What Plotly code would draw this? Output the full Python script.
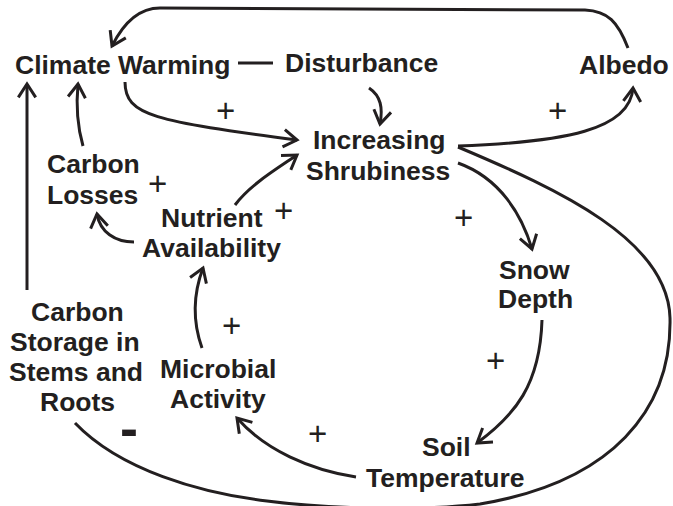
import math
import plotly.graph_objects as go

# ---------------- data ----------------
node_names = ["Climate Warming", "Disturbance", "Albedo", "Increasing Shrubiness",
              "Carbon Losses", "Nutrient Availability", "Snow Depth",
              "Carbon Storage in Stems and Roots", "Microbial Activity", "Soil Temperature"]
node_lines = [["Climate Warming"], ["Disturbance"], ["Albedo"], ["Increasing", "Shrubiness"],
              ["Carbon", "Losses"], ["Nutrient", "Availability"], ["Snow", "Depth"],
              ["Carbon", "Storage in", "Stems and", "Roots"], ["Microbial", "Activity"],
              ["Soil", "Temperature"]]
# links: (from, to, sign, has_arrow)
link_from = ["Albedo", "Climate Warming", "Disturbance", "Climate Warming", "Increasing Shrubiness",
             "Increasing Shrubiness", "Increasing Shrubiness", "Snow Depth", "Soil Temperature",
             "Microbial Activity", "Nutrient Availability", "Nutrient Availability",
             "Carbon Losses", "Carbon Storage in Stems and Roots"]
link_to = ["Climate Warming", "Disturbance", "Increasing Shrubiness", "Increasing Shrubiness",
           "Albedo", "Snow Depth", "Carbon Storage in Stems and Roots", "Soil Temperature",
           "Microbial Activity", "Nutrient Availability", "Increasing Shrubiness", "Carbon Losses",
           "Climate Warming", "Climate Warming"]
link_arrow = [True, False, True, True, True, True, False, True, True, True, True, True, True, True]
sign_labels = ["+", "+", "+", "+", "+", "+", "+", "+", "-"]

# ---------------- layout geometry (pixels) ----------------
W, H = 673, 506
INK = "#231f20"
FONT = "Liberation Sans, Arial, Helvetica, sans-serif"

line_pos = {
    "Climate Warming": [(122, 65)],
    "Disturbance": [(361, 63)],
    "Albedo": [(624, 65)],
    "Increasing Shrubiness": [(379, 140), (378, 171)],
    "Carbon Losses": [(93, 164), (92, 195)],
    "Nutrient Availability": [(212, 218), (211, 248)],
    "Snow Depth": [(534, 270), (535, 299)],
    "Carbon Storage in Stems and Roots": [(77, 312), (75, 342), (76, 372), (77, 402)],
    "Microbial Activity": [(218, 369), (218, 399)],
    "Soil Temperature": [(446, 447), (445, 478)],
}
sign_pos = [(225, 110), (557, 110), (157, 183), (283, 210), (463, 217),
            (231, 325), (495, 360), (317, 433), (129, 428)]

link_paths = [
    "M 628,48 C 618,22 608,11 585,10 L 160,8 C 140,8 124,22 112,46",
    "M 238,63 L 273,63",
    "M 369,88 C 381,96 383,108 380,124",
    "M 125,82 C 125,116 155,121 297,140",
    "M 458,146 C 565,142 630,130 633,88",
    "M 458,163 C 500,178 522,215 532,249",
    "M 458,147 C 560,190 668,240 670,318 C 672,410 612,482 480,504 "
    "C 420,511 330,509 267,501 C 200,493 120,470 75,423",
    "M 542,320 C 540,385 515,415 477,443",
    "M 356,477 C 310,470 265,450 237,418",
    "M 202,348 C 192,320 194,292 203,268",
    "M 235,205 C 250,185 275,170 297,155",
    "M 134,242 C 115,242 100,232 97,214",
    "M 83,146 C 77,125 76,105 78,84",
    "M 27,290 L 27,84",
]


def arrow_head(path, L=16, ang=33):
    nums = [float(v) for v in path.replace("M", " ").replace("C", " ").replace("L", " ")
            .replace(",", " ").split()]
    tx, ty = nums[-2], nums[-1]
    px, py = nums[-4], nums[-3]
    dx, dy = tx - px, ty - py
    n = math.hypot(dx, dy)
    dx, dy = dx / n, dy / n
    pts = []
    for s in (1, -1):
        a = math.radians(ang) * s
        rx = dx * math.cos(a) - dy * math.sin(a)
        ry = dx * math.sin(a) + dy * math.cos(a)
        pts.append((tx - L * rx, ty - L * ry))
    return "M %.1f,%.1f L %.1f,%.1f L %.1f,%.1f" % (pts[0][0], pts[0][1], tx, ty, pts[1][0], pts[1][1])


fig = go.Figure()
fig.add_trace(go.Scatter(x=[0, W], y=[0, H], mode="markers", marker=dict(opacity=0),
                         hoverinfo="skip", showlegend=False))

shapes = []
for p, has_arrow in zip(link_paths, link_arrow):
    shapes.append(dict(type="path", path=p, xref="x", yref="y",
                       line=dict(color=INK, width=3), fillcolor="rgba(0,0,0,0)"))
    if has_arrow:
        shapes.append(dict(type="path", path=arrow_head(p), xref="x", yref="y",
                           line=dict(color=INK, width=3), fillcolor="rgba(0,0,0,0)"))

annotations = []
for name, lines in zip(node_names, node_lines):
    for txt, (x, y) in zip(lines, line_pos[name]):
        annotations.append(dict(x=x, y=y, xref="x", yref="y", text="<b>%s</b>" % txt,
                                showarrow=False, xanchor="center", yanchor="middle",
                                font=dict(family=FONT, size=26.5, color=INK)))
for s, (x, y) in zip(sign_labels, sign_pos):
    if s == "+":
        annotations.append(dict(x=x, y=y, xref="x", yref="y", text="+", showarrow=False,
                                xanchor="center", yanchor="middle",
                                font=dict(family=FONT, size=33, color=INK)))
    else:
        annotations.append(dict(x=x, y=y, xref="x", yref="y", text="<b>-</b>", showarrow=False,
                                xanchor="center", yanchor="middle",
                                font=dict(family=FONT, size=54, color=INK)))

fig.update_layout(
    width=W, height=H, autosize=False,
    margin=dict(l=0, r=0, t=0, b=0, pad=0),
    paper_bgcolor="white", plot_bgcolor="white",
    xaxis=dict(range=[0, W], visible=False, fixedrange=True),
    yaxis=dict(range=[H, 0], visible=False, fixedrange=True),
    shapes=shapes, annotations=annotations, showlegend=False,
)

fig.write_html("out.html", config={"displayModeBar": False, "staticPlot": True},
               post_script="document.body.style.margin='0';")
